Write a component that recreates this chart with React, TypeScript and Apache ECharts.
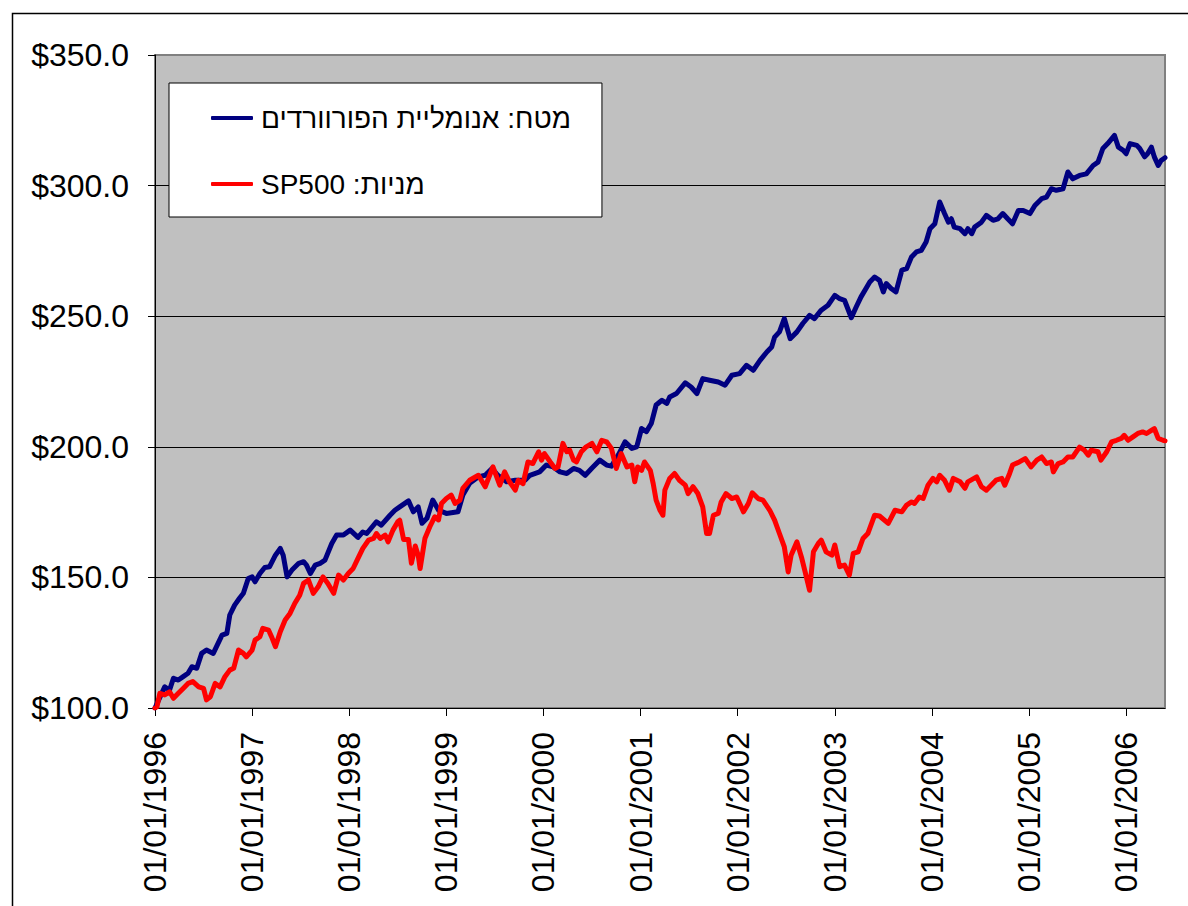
import React, { useEffect, useRef } from 'react';
import * as echarts from 'echarts';

const tickYears = [1996, 1997, 1998, 1999, 2000, 2001, 2002, 2003, 2004, 2005, 2006];
const blueName = 'מטח: אנומליית הפורוורדים';
const redName = 'מניות: SP500';

const blueYears = [
  1996.00, 1996.10, 1996.15, 1996.19, 1996.24, 1996.29, 1996.34, 1996.38, 1996.43, 1996.48, 1996.53, 1996.60, 1996.69, 1996.74, 1996.77, 1996.82, 1996.87, 1996.91, 1996.96,
  1997.00, 1997.03, 1997.08, 1997.13, 1997.18, 1997.24, 1997.29, 1997.32, 1997.36, 1997.41, 1997.48, 1997.53, 1997.56, 1997.60, 1997.65, 1997.70, 1997.75, 1997.82, 1997.87, 1997.94,
  1998.01, 1998.09, 1998.14, 1998.18, 1998.28, 1998.33, 1998.42, 1998.47, 1998.52, 1998.61, 1998.66, 1998.71, 1998.75, 1998.80, 1998.86, 1998.92,
  1999.00, 1999.12, 1999.17, 1999.24, 1999.33, 1999.40, 1999.47, 1999.53, 1999.62, 1999.71, 1999.81, 1999.86, 1999.96,
  2000.03, 2000.10, 2000.17, 2000.24, 2000.31, 2000.37, 2000.43, 2000.50, 2000.58, 2000.65, 2000.70, 2000.77, 2000.84, 2000.91, 2000.96,
  2001.01, 2001.06, 2001.11, 2001.16, 2001.22, 2001.27, 2001.30, 2001.37, 2001.46, 2001.52, 2001.58, 2001.64, 2001.71, 2001.80, 2001.87, 2001.94,
  2002.02, 2002.09, 2002.16, 2002.23, 2002.30, 2002.35, 2002.38, 2002.43, 2002.48, 2002.54, 2002.61, 2002.67, 2002.74, 2002.79, 2002.86, 2002.93,
  2003.00, 2003.05, 2003.10, 2003.17, 2003.22, 2003.27, 2003.33, 2003.36, 2003.41, 2003.46, 2003.50, 2003.53, 2003.58, 2003.63, 2003.69, 2003.74, 2003.79, 2003.84, 2003.89, 2003.94, 2003.98,
  2004.03, 2004.08, 2004.13, 2004.17, 2004.20, 2004.23, 2004.29, 2004.34, 2004.37, 2004.41, 2004.44, 2004.51, 2004.56, 2004.63, 2004.68, 2004.73, 2004.78, 2004.83, 2004.89, 2004.94,
  2005.01, 2005.06, 2005.13, 2005.18, 2005.23, 2005.28, 2005.35, 2005.40, 2005.45, 2005.52, 2005.59, 2005.66, 2005.71, 2005.76, 2005.81, 2005.88, 2005.92, 2005.97,
  2006.00, 2006.04, 2006.11, 2006.14, 2006.19, 2006.22, 2006.26, 2006.29, 2006.33, 2006.36, 2006.40,
];
const blueValues = [
  100.0, 108.1, 106.9, 111.4, 110.7, 112.0, 113.3, 115.8, 115.2, 120.9, 122.2, 120.9, 127.9, 128.6, 135.6, 139.4, 142.0, 143.9, 149.6,
  150.2, 148.3, 151.5, 153.8, 154.1, 158.5, 161.1, 158.5, 150.2, 152.8, 155.4, 156.0, 154.7, 151.5, 154.7, 155.4, 156.6, 163.0, 166.2, 166.2,
  168.1, 165.3, 167.4, 166.8, 171.3, 170.0, 173.8, 175.7, 177.0, 179.3, 175.1, 177.0, 170.7, 172.6, 179.6, 175.7,
  174.5, 175.1, 181.5, 186.0, 188.5, 189.1, 191.7, 189.1, 186.6, 187.2, 187.2, 189.1, 190.4,
  193.0, 192.3, 190.4, 189.8, 191.7, 191.0, 189.1, 191.9, 194.9, 193.0, 192.6, 196.8, 201.9, 199.4, 200.0,
  207.0, 205.8, 208.9, 216.0, 217.8, 216.6, 219.1, 220.4, 224.5, 222.9, 220.4, 226.1, 225.5, 224.8, 223.6, 227.4,
  228.0, 231.2, 229.3, 233.1, 236.3, 238.2, 242.0, 244.0, 249.1, 241.4, 244.0, 247.2, 250.3, 249.1, 252.3, 254.2,
  258.0, 256.7, 256.1, 249.4, 253.5, 257.4, 261.2, 263.1, 265.0, 263.7, 259.3, 262.5, 260.6, 259.3, 267.6, 268.2, 272.7, 274.6, 275.2, 278.4, 283.5,
  285.4, 293.7, 289.3, 286.0, 287.3, 284.1, 283.5, 281.6, 283.5, 281.6, 284.1, 286.0, 288.6, 286.7, 287.3, 289.3, 287.3, 285.4, 290.5, 290.5,
  289.3, 292.4, 295.0, 295.6, 298.8, 298.2, 298.8, 305.2, 302.6, 303.9, 304.5, 307.7, 309.0, 314.2, 316.1, 319.2, 314.7, 313.5,
  312.2, 316.1, 315.4, 314.2, 311.0, 312.2, 314.7, 311.0, 307.7, 309.6, 310.7,
];

const redYears = [
  1996.00, 1996.02, 1996.05, 1996.10, 1996.15, 1996.19, 1996.24, 1996.29, 1996.34, 1996.39, 1996.45, 1996.50, 1996.53, 1996.57, 1996.62, 1996.67, 1996.72, 1996.77, 1996.81, 1996.86, 1996.91, 1996.94,
  1997.00, 1997.03, 1997.08, 1997.11, 1997.17, 1997.20, 1997.24, 1997.29, 1997.34, 1997.39, 1997.44, 1997.49, 1997.53, 1997.58, 1997.63, 1997.68, 1997.73, 1997.78, 1997.84, 1997.89, 1997.94, 1997.99,
  1998.04, 1998.09, 1998.14, 1998.20, 1998.25, 1998.28, 1998.32, 1998.37, 1998.40, 1998.45, 1998.50, 1998.52, 1998.56, 1998.61, 1998.64, 1998.68, 1998.71, 1998.73, 1998.78, 1998.83, 1998.88, 1998.92, 1998.95,
  1999.00, 1999.05, 1999.09, 1999.14, 1999.17, 1999.24, 1999.33, 1999.40, 1999.48, 1999.55, 1999.60, 1999.65, 1999.71, 1999.74, 1999.79, 1999.84, 1999.89, 1999.95, 1999.98,
  2000.01, 2000.07, 2000.12, 2000.15, 2000.20, 2000.24, 2000.27, 2000.31, 2000.34, 2000.39, 2000.44, 2000.50, 2000.55, 2000.60, 2000.65, 2000.70, 2000.75, 2000.80, 2000.86, 2000.91, 2000.94, 2000.97,
  2001.01, 2001.04, 2001.10, 2001.13, 2001.16, 2001.20, 2001.23, 2001.25, 2001.30, 2001.35, 2001.40, 2001.46, 2001.49, 2001.54, 2001.59, 2001.64, 2001.68, 2001.71, 2001.75, 2001.80, 2001.83, 2001.88, 2001.94, 2001.99,
  2002.06, 2002.11, 2002.15, 2002.21, 2002.26, 2002.33, 2002.38, 2002.43, 2002.48, 2002.52, 2002.55, 2002.61, 2002.66, 2002.69, 2002.74, 2002.78, 2002.83, 2002.86, 2002.91, 2002.97,
  2003.00, 2003.05, 2003.10, 2003.15, 2003.19, 2003.24, 2003.29, 2003.34, 2003.41, 2003.46, 2003.55, 2003.62, 2003.69, 2003.74, 2003.79, 2003.82, 2003.87, 2003.91, 2003.96,
  2004.01, 2004.05, 2004.08, 2004.13, 2004.18, 2004.22, 2004.29, 2004.34, 2004.37, 2004.46, 2004.51, 2004.56, 2004.61, 2004.66, 2004.72, 2004.75, 2004.80, 2004.83, 2004.90, 2004.96,
  2005.02, 2005.08, 2005.13, 2005.18, 2005.23, 2005.25, 2005.30, 2005.35, 2005.40, 2005.45, 2005.52, 2005.57, 2005.61, 2005.64, 2005.71, 2005.74, 2005.80, 2005.85, 2005.90, 2005.95, 2005.98,
  2006.02, 2006.07, 2006.12, 2006.17, 2006.21, 2006.26, 2006.29, 2006.33, 2006.38, 2006.40,
];
const redValues = [
  100.0, 100.5, 105.6, 105.0, 106.2, 103.7, 105.6, 107.5, 109.4, 110.1, 108.1, 107.5, 103.1, 104.3, 109.4, 108.1, 112.0, 114.5, 115.2, 122.2, 120.9, 119.6,
  122.2, 126.0, 127.3, 130.5, 129.8, 127.3, 123.5, 129.2, 133.7, 136.2, 140.1, 143.2, 147.7, 149.0, 143.9, 146.4, 150.2, 147.7, 143.9, 150.9, 149.0, 151.5,
  153.4, 157.3, 161.1, 164.3, 164.9, 166.8, 164.9, 166.2, 163.6, 168.1, 171.3, 171.9, 164.5, 164.5, 155.4, 162.0, 158.5, 153.4, 165.0, 169.4, 173.2, 172.0, 178.3,
  180.2, 181.5, 178.3, 179.6, 184.1, 187.2, 189.1, 184.7, 192.3, 185.3, 190.4, 186.6, 183.4, 187.2, 185.9, 194.2, 193.6, 198.1, 194.9,
  197.4, 194.2, 191.7, 192.3, 201.3, 198.1, 198.7, 194.9, 194.2, 198.1, 200.0, 201.3, 198.1, 202.5, 201.9, 199.4, 191.7, 197.4, 192.3, 193.0, 186.6, 192.3,
  191.0, 194.2, 191.0, 185.9, 179.6, 175.7, 173.8, 183.4, 187.9, 189.8, 187.2, 185.3, 182.1, 184.7, 182.1, 177.0, 166.8, 166.8, 173.8, 174.5, 178.9, 182.1, 180.2, 180.8,
  175.1, 178.3, 182.4, 180.2, 179.6, 175.7, 171.9, 166.8, 161.7, 152.1, 158.5, 163.6, 157.3, 152.8, 145.1, 159.8, 163.0, 164.3, 159.8, 158.5,
  162.4, 154.1, 154.7, 150.9, 159.2, 159.8, 164.9, 166.8, 173.8, 173.5, 170.7, 175.7, 175.1, 177.7, 178.9, 178.3, 180.8, 180.2, 185.3,
  187.9, 186.6, 189.1, 187.2, 183.4, 187.9, 186.6, 184.1, 186.6, 188.5, 184.7, 183.4, 185.3, 187.2, 187.9, 185.3, 189.8, 193.0, 194.2, 195.5,
  192.3, 194.9, 196.1, 193.6, 194.2, 190.4, 193.6, 194.2, 196.1, 196.1, 199.9, 198.7, 196.8, 198.7, 198.1, 194.9, 198.1, 201.9, 202.5, 203.2, 204.4,
  202.5, 203.8, 205.1, 205.7, 205.1, 206.3, 207.0, 203.2, 202.5, 202.3,
];

const FONT = "'Liberation Sans', Arial, sans-serif";

export default function App() {
  const ref = useRef<HTMLDivElement>(null);

  useEffect(() => {
    if (!ref.current) return;
    const chart = echarts.init(ref.current, null, { renderer: 'svg' });
    const blueData = blueYears.map((y, i) => [y, blueValues[i]]);
    const redData = redYears.map((y, i) => [y, redValues[i]]);

    chart.setOption({
      animation: false,
      backgroundColor: '#ffffff',
      textStyle: { fontFamily: FONT },
      graphic: [
        {
          type: 'rect',
          left: 10,
          top: 11,
          z: -10,
          silent: true,
          shape: { width: 1250, height: 950 },
          style: { fill: 'none', stroke: '#000000', lineWidth: 1.5 },
        },
      ],
      grid: {
        left: 155,
        right: 23,
        top: 55,
        bottom: 198,
        show: true,
        backgroundColor: '#C0C0C0',
        borderColor: '#808080',
        borderWidth: 2,
      },
      legend: {
        orient: 'vertical',
        left: 169,
        top: 83,
        icon: 'roundRect',
        itemWidth: 42,
        itemHeight: 4,
        itemGap: 36,
        padding: [20, 31, 18, 42],
        backgroundColor: '#ffffff',
        borderColor: '#000000',
        borderWidth: 1,
        selectedMode: false,
        data: [blueName, redName],
        formatter: (name: string) => '\u202B' + name + '\u202C',
        textStyle: {
          fontFamily: FONT,
          fontSize: 28,
          lineHeight: 30,
          color: '#000000',
          padding: [0, 0, 0, 3],
        },
      },
      xAxis: {
        type: 'value',
        min: 1996,
        max: 2006.4,
        interval: 1,
        axisLine: { show: true, onZero: false, lineStyle: { color: '#000000', width: 1 } },
        axisTick: {
          show: true,
          length: 8,
          customValues: tickYears,
          lineStyle: { color: '#000000', width: 1 },
        },
        axisLabel: {
          show: true,
          rotate: 90,
          margin: 24,
          fontFamily: FONT,
          fontSize: 32,
          color: '#000000',
          customValues: tickYears,
          formatter: (v: number) => '01/01/' + Math.round(v),
        },
        splitLine: { show: false },
      },
      yAxis: {
        type: 'value',
        min: 100,
        max: 350,
        interval: 50,
        axisLine: { show: true, lineStyle: { color: '#000000', width: 1 } },
        axisTick: { show: true, length: 7, lineStyle: { color: '#000000', width: 1 } },
        axisLabel: {
          margin: 26,
          fontFamily: FONT,
          fontSize: 32,
          color: '#000000',
          formatter: (v: number) => '$' + v.toFixed(1),
        },
        splitLine: {
          show: true,
          showMinLine: false,
          showMaxLine: false,
          lineStyle: { color: '#000000', width: 1 },
        },
      },
      series: [
        {
          name: blueName,
          type: 'line',
          data: blueData,
          showSymbol: false,
          symbol: 'none',
          silent: true,
          clip: true,
          color: '#000080',
          lineStyle: { color: '#000080', width: 5, join: 'round', cap: 'round' },
          emphasis: { disabled: true },
        },
        {
          name: redName,
          type: 'line',
          data: redData,
          showSymbol: false,
          symbol: 'none',
          silent: true,
          clip: true,
          color: '#FF0000',
          lineStyle: { color: '#FF0000', width: 5, join: 'round', cap: 'round' },
          emphasis: { disabled: true },
        },
      ],
    });

    return () => chart.dispose();
  }, []);

  return (
    <div
      ref={ref}
      style={{ position: 'fixed', left: 0, top: 0, width: 1188, height: 906, background: '#ffffff' }}
    />
  );
}
